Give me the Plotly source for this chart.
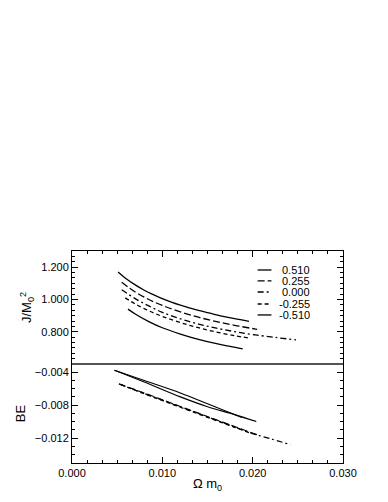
import plotly.graph_objects as go
from plotly.subplots import make_subplots

# series labels (legend order)
labels = ["0.510", "0.255", "0.000", "-0.255", "-0.510"]
dashes = ["solid", "7px,3px", "6px,3px,2px,3px", "4px,3px", "solid"]

# upper panel: J/M0^2 vs Omega m0
j_x_p510 = [0.0051, 0.0060, 0.0070, 0.0080, 0.0090, 0.0100, 0.0110, 0.0120, 0.0130, 0.0140, 0.0150, 0.0160, 0.0170, 0.0180, 0.0196]
j_y_p510 = [1.170, 1.128, 1.090, 1.057, 1.030, 1.005, 0.984, 0.965, 0.948, 0.932, 0.918, 0.905, 0.892, 0.881, 0.865]
j_x_p255 = [0.0055, 0.0070, 0.0085, 0.0100, 0.0120, 0.0140, 0.0160, 0.0180, 0.0205]
j_y_p255 = [1.106, 1.046, 1.000, 0.963, 0.923, 0.890, 0.863, 0.840, 0.815]
j_x_000 = [0.0055, 0.0070, 0.0085, 0.0100, 0.0120, 0.0140, 0.0160, 0.0180, 0.0200, 0.0225, 0.0248]
j_y_000 = [1.060, 1.005, 0.960, 0.920, 0.880, 0.848, 0.822, 0.801, 0.783, 0.765, 0.750]
j_x_m255 = [0.0059, 0.0070, 0.0085, 0.0100, 0.0120, 0.0140, 0.0160, 0.0180, 0.0197]
j_y_m255 = [1.010, 0.972, 0.930, 0.895, 0.857, 0.825, 0.798, 0.776, 0.760]
j_x_m510 = [0.0062, 0.0070, 0.0085, 0.0100, 0.0120, 0.0140, 0.0160, 0.0175, 0.0189]
j_y_m510 = [0.940, 0.910, 0.863, 0.825, 0.786, 0.753, 0.726, 0.709, 0.694]

# lower panel: BE vs Omega m0
be_x_p510 = [0.0047, 0.0080, 0.0120, 0.0150, 0.0180, 0.0204]
be_y_p510 = [-0.00376, -0.00519, -0.00699, -0.00818, -0.00913, -0.00997]
be_x_p255 = [0.0052, 0.0080, 0.0100, 0.0120, 0.0140, 0.0160, 0.0180, 0.0205]
be_y_p255 = [-0.00540, -0.00652, -0.00733, -0.00815, -0.00896, -0.00978, -0.01058, -0.01158]
be_x_000 = [0.0052, 0.0080, 0.0100, 0.0120, 0.0140, 0.0160, 0.0180, 0.0200, 0.0220, 0.0242]
be_y_000 = [-0.00543, -0.00657, -0.00738, -0.00820, -0.00900, -0.00982, -0.01063, -0.01144, -0.01207, -0.01278]
be_x_m255 = [0.0054, 0.0080, 0.0100, 0.0120, 0.0140, 0.0160, 0.0180, 0.0197]
be_y_m255 = [-0.00550, -0.00662, -0.00743, -0.00825, -0.00906, -0.00987, -0.01068, -0.01136]
be_x_m510 = [0.0047, 0.0080, 0.0120, 0.0150, 0.0188]
be_y_m510 = [-0.00376, -0.00500, -0.00651, -0.00782, -0.00949]

j_series = [(j_x_p510, j_y_p510), (j_x_p255, j_y_p255), (j_x_000, j_y_000),
            (j_x_m255, j_y_m255), (j_x_m510, j_y_m510)]
be_series = [(be_x_p510, be_y_p510), (be_x_p255, be_y_p255), (be_x_000, be_y_000),
             (be_x_m255, be_y_m255), (be_x_m510, be_y_m510)]

FONT = "Liberation Sans, Arial, sans-serif"

fig = make_subplots(rows=2, cols=1, shared_xaxes=True, vertical_spacing=0,
                    row_heights=[0.533, 0.467])

for i, (xs, ys) in enumerate(j_series):
    fig.add_trace(go.Scatter(x=xs, y=ys, mode="lines", line_shape="spline",
                             line=dict(color="black", width=1.3, dash=dashes[i]),
                             name=labels[i], showlegend=False), row=1, col=1)
for i, (xs, ys) in enumerate(be_series):
    fig.add_trace(go.Scatter(x=xs, y=ys, mode="lines", line_shape="spline",
                             line=dict(color="black", width=1.2, dash=dashes[i]),
                             name=labels[i], showlegend=False), row=2, col=1)

# hand-made legend in the upper panel
legend_y = [0.832, 0.735, 0.637, 0.531, 0.434]
for i, lab in enumerate(labels):
    fig.add_shape(type="line", xref="x domain", yref="y domain",
                  x0=0.685, x1=0.736, y0=legend_y[i], y1=legend_y[i],
                  line=dict(color="black", width=1.3, dash=dashes[i]))
    fig.add_annotation(xref="x domain", yref="y domain", x=0.885, y=legend_y[i],
                       text=lab, showarrow=False, xanchor="right", yanchor="middle",
                       font=dict(family=FONT, size=11, color="black"))

axis_common = dict(showline=True, linecolor="black", linewidth=1, ticks="inside",
                   tickcolor="black", ticklen=6, showgrid=False, zeroline=False,
                   tickfont=dict(family=FONT, size=11, color="black"))

fig.update_xaxes(range=[0, 0.03], dtick=0.01, tick0=0, tickformat=".3f",
                 minor=dict(dtick=0.01 / 6, ticks="inside", ticklen=3, tickcolor="black"),
                 **axis_common)
fig.update_xaxes(side="top", showticklabels=False, row=1, col=1)
fig.update_xaxes(title=dict(text="Ω m<sub>0</sub>", font=dict(family=FONT, size=13, color="black"),
                            standoff=0), row=2, col=1)

fig.update_yaxes(range=[0.6005, 1.3], dtick=0.2, tick0=0.8, tickformat=".3f", mirror="ticks",
                 minor=dict(dtick=0.2 / 6, tick0=0.8, ticks="inside", ticklen=3, tickcolor="black"),
                 title=dict(text="J/M<sub>0</sub><sup>2</sup>", font=dict(family=FONT, size=13, color="black"),
                            standoff=6),
                 row=1, col=1, **axis_common)
fig.update_yaxes(range=[-0.015, -0.003], dtick=0.004, tick0=-0.004, tickformat=".3f", mirror="ticks",
                 minor=dict(dtick=0.001, ticks="inside", ticklen=3, tickcolor="black"),
                 title=dict(text="BE", font=dict(family=FONT, size=13, color="black"), standoff=6),
                 row=2, col=1, **axis_common)

# divider between the two panels
fig.add_shape(type="line", xref="x2 domain", yref="y2 domain", x0=0, x1=1, y0=1, y1=1,
              line=dict(color="#555555", width=2))

fig.update_layout(width=388, height=502, plot_bgcolor="white", paper_bgcolor="white",
                  margin=dict(l=59, r=53, t=243, b=47), showlegend=False,
                  font=dict(family=FONT, color="black"))

fig.write_html("out.html")
